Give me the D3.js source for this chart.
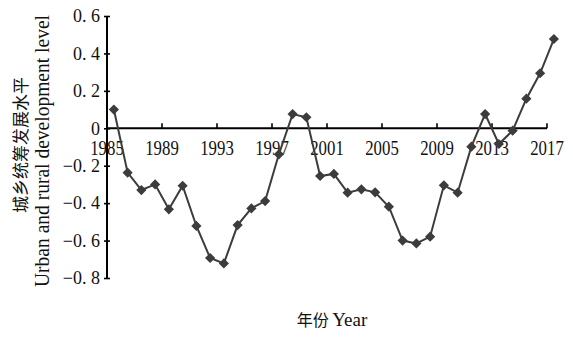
<!DOCTYPE html>
<html><head><meta charset="utf-8">
<script src="https://cdn.jsdelivr.net/npm/d3@7/dist/d3.min.js"></script>
<style>
html,body{margin:0;padding:0;background:#fff;}
svg{display:block;}
</style></head>
<body>
<svg id="chart" width="573" height="338"></svg>
<script>
const years = d3.range(1985, 2018);
const values = [0.10, -0.237, -0.33, -0.30, -0.433, -0.307, -0.522, -0.693, -0.722, -0.517,
  -0.428, -0.389, -0.139, 0.076, 0.059, -0.255, -0.244, -0.344, -0.326, -0.342,
  -0.419, -0.60, -0.615, -0.579, -0.305, -0.344, -0.098, 0.076, -0.084, -0.013,
  0.158, 0.294, 0.477];
const xTickYears = [1985, 1989, 1993, 1997, 2001, 2005, 2009, 2013, 2017];
const yTicks = [-0.8, -0.6, -0.4, -0.2, 0, 0.2, 0.4, 0.6];
const yTitleCn = "城乡统筹发展水平";
const yTitleEn = "Urban and rural development level";
const xTitleCn = "年份";
const xTitleEn = "Year";

const svg = d3.select("#chart");
const serif = "'Liberation Serif','DejaVu Serif',serif";
const cjk = "'Noto Sans CJK SC','Noto Sans CJK JP',sans-serif";

const x = d3.scaleBand().domain(years).range([107, 107 + 33 * 13.75]).padding(0);
const cx = d => x(d) + x.bandwidth() / 2;
const y = d3.scaleLinear().domain([-0.8, 0.6]).range([278, 16]);

const fmt = v => {
  if (Math.abs(v) < 1e-9) return "0";
  const s = Math.abs(v).toFixed(1).replace(".", ".\u00a0");
  return (v < 0 ? "\u2212" : "") + s;
};

// Y axis
const yAxis = d3.axisLeft(y).tickValues(yTicks).tickFormat(fmt).tickSizeInner(3).tickSizeOuter(0).tickPadding(6);
const gy = svg.append("g").attr("transform", "translate(107,0)").call(yAxis);
gy.select(".domain").remove();
gy.selectAll(".tick line").attr("x1", -3).attr("x2", 3).attr("stroke", "#000").attr("stroke-width", 1.6);
gy.selectAll(".tick text").attr("font-family", serif).attr("font-size", 18).attr("fill", "#111")
  .attr("x", -7);
gy.append("line").attr("x1", 0).attr("x2", 0).attr("y1", y(0.6)).attr("y2", y(-0.8))
  .attr("stroke", "#000").attr("stroke-width", 2);

// X axis at y=0
const gx = svg.append("g").attr("transform", `translate(0,${y(0)})`);
gx.append("line").attr("x1", x(1985)).attr("x2", x(2017)).attr("y1", 0).attr("y2", 0)
  .attr("stroke", "#000").attr("stroke-width", 2);
const xt = gx.selectAll("g.xt").data(xTickYears).join("g").attr("class", "xt")
  .attr("transform", d => `translate(${x(d)},0)`);
xt.append("line").attr("y1", 0).attr("y2", -5).attr("stroke", "#000").attr("stroke-width", 1.6);
xt.append("text").text(d => d)
  .attr("transform", "translate(0,27) scale(0.8,1)")
  .attr("text-anchor", "middle").attr("font-family", serif).attr("font-size", 21).attr("fill", "#111");

// line
const line = d3.line().x((d, i) => cx(years[i])).y(d => y(d));
svg.append("path").datum(values).attr("d", line).attr("fill", "none")
  .attr("stroke", "#3c3c3c").attr("stroke-width", 2);
svg.selectAll("path.pt").data(values).join("path").attr("class", "pt")
  .attr("d", d3.symbol().type(d3.symbolSquare).size(52))
  .attr("transform", (d, i) => `translate(${cx(years[i])},${y(d)}) rotate(45)`)
  .attr("fill", "#3c3c3c");

// Y titles
svg.append("text").text(yTitleCn)
  .attr("transform", "translate(27,145) rotate(-90)")
  .attr("text-anchor", "middle").attr("font-family", cjk).attr("font-size", 17).attr("fill", "#111");
svg.append("text").text(yTitleEn)
  .attr("transform", "translate(49,151) rotate(-90)")
  .attr("text-anchor", "middle").attr("font-family", serif).attr("font-size", 20).attr("fill", "#111")
  .attr("textLength", 272).attr("lengthAdjust", "spacingAndGlyphs");

// X title
const xtitle = svg.append("text").attr("x", 332).attr("y", 326).attr("text-anchor", "middle").attr("fill", "#111");
xtitle.append("tspan").text(xTitleCn + "\u00a0").attr("font-family", cjk).attr("font-size", 16);
xtitle.append("tspan").text(xTitleEn).attr("font-family", serif).attr("font-size", 19);
</script>
</body></html>
